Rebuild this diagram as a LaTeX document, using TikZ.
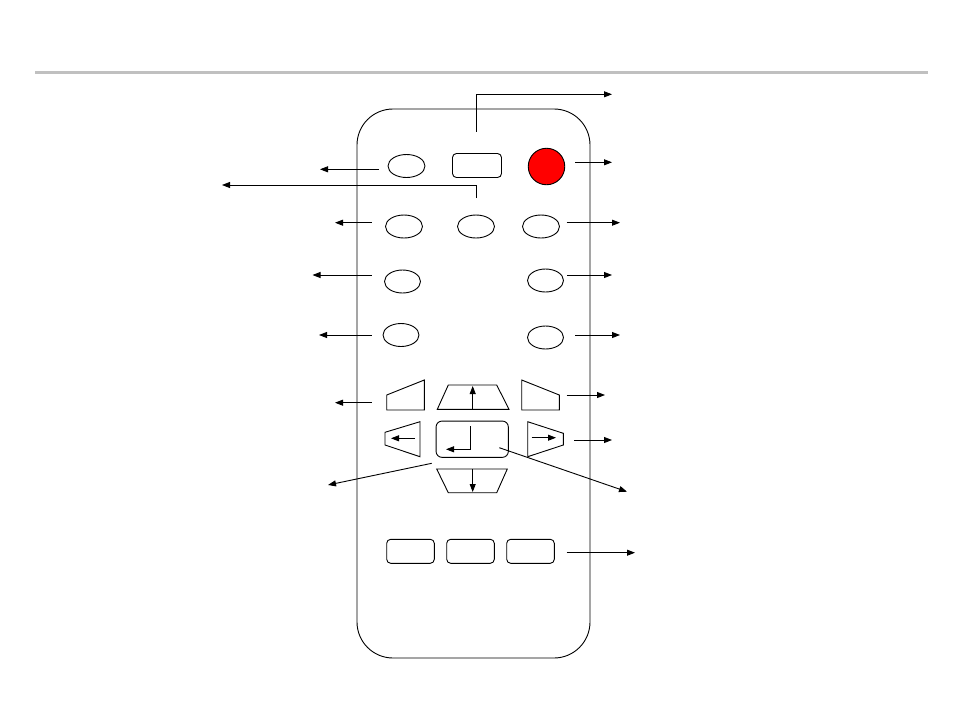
\documentclass[tikz,border=0pt]{standalone}
\usetikzlibrary{shapes.geometric,arrows.meta}
\begin{document}
\begin{tikzpicture}[x=1pt,y=-1pt,
  ln/.style={line width=0.9pt,black},
  arr/.style={ln,-{Triangle[length=8pt,width=6pt]}},
  oval/.style={ellipse,draw,line width=0.9pt,minimum width=37pt,minimum height=23pt,inner sep=0pt},
  keybox/.style={rectangle,draw,line width=0.9pt,rounded corners=4pt,inner sep=0pt},
  padshape/.style={ln,line join=miter}]
\useasboundingbox (0,0) rectangle (954,716);
\fill[white] (0,0) rectangle (954,716);
% gray rule
\draw[line width=3pt,color={rgb,255:red,192;green,192;blue,192}] (35,72) -- (928,72);
% body
\draw[ln,rounded corners=36pt] (357,109) rectangle (590,658);
% row 1
\node[oval] (b1) at (406.5,166) {};
\node[keybox,minimum width=49pt,minimum height=24pt] (b2) at (477,165.5) {};
\node[circle,draw,line width=0.9pt,fill=red,minimum size=36.5pt,inner sep=0pt] (pw) at (546.5,166.5) {};
% row 2
\node[oval] (c1) at (404,226.5) {};
\node[oval] (c2) at (476,226.5) {};
\node[oval] (c3) at (541,226.5) {};
% row 3, 4
\node[oval,minimum width=36pt] (d1) at (402.5,281.5) {};
\node[oval,minimum width=36pt] (d2) at (545.5,280.5) {};
\node[oval,minimum width=36pt] (e1) at (401,335) {};
\node[oval,minimum width=36pt] (e2) at (545.5,337.5) {};
% nav pad
\draw[padshape] (386.7,410) -- (386.7,395) -- (424.3,380) -- (424.3,410) -- cycle;
\draw[padshape] (437.3,409.3) -- (448.3,385) -- (496.7,385) -- (509,409.3) -- cycle;
\draw[padshape] (521.7,410) -- (521.7,380) -- (559.3,395) -- (559.3,410) -- cycle;
\draw[padshape] (385,432.3) -- (420,421.7) -- (420,456.7) -- (385,445) -- cycle;
\node[keybox,rounded corners=6pt,minimum width=72.3pt,minimum height=36.3pt] (ok) at (472.2,439.2) {};
\draw[padshape] (527.7,421.7) -- (563.3,433.3) -- (563.3,445) -- (527.7,456.7) -- cycle;
\draw[padshape] (436.7,469) -- (507.3,469) -- (496.7,492.7) -- (448.3,492.7) -- cycle;
% inner arrows
\coordinate (upS) at (472.7,409.3); \coordinate (upE) at (472.7,386);
\draw[arr] (upS) -- (upE);
\coordinate (dnS) at (472.7,469); \coordinate (dnE) at (472.7,492);
\draw[arr] (dnS) -- (dnE);
\coordinate (lfS) at (415,438.3); \coordinate (lfE) at (391,438.3);
\draw[arr] (lfS) -- (lfE);
\coordinate (rtS) at (531.7,437.7); \coordinate (rtE) at (556,437.7);
\draw[arr] (rtS) -- (rtE);
\coordinate (enS) at (470.7,426); \coordinate (enE) at (446,449.3);
\draw[arr] (enS) |- (enE);
% bottom keys
\node[keybox,minimum width=47.6pt,minimum height=24pt] (f1) at (410.5,551.3) {};
\node[keybox,minimum width=47.6pt,minimum height=24pt] (f2) at (470.5,551.3) {};
\node[keybox,minimum width=47.6pt,minimum height=24pt] (f3) at (530.5,551.3) {};
% callout arrows
\coordinate (t0) at (476.7,131.7); \coordinate (t1) at (612,94.3);
\draw[arr] (t0) |- (t1);
\coordinate (l0) at (476.7,198); \coordinate (l1) at (222,185);
\draw[arr] (l0) |- (l1);
\coordinate (a1s) at (379,169.3); \coordinate (a1e) at (320,169.3);
\draw[arr] (a1s) -- (a1e);
\coordinate (a2s) at (575,162.3); \coordinate (a2e) at (612,162.3);
\draw[arr] (a2s) -- (a2e);
\coordinate (a3s) at (371.7,222.7); \coordinate (a3e) at (335,222.7);
\draw[arr] (a3s) -- (a3e);
\coordinate (a4s) at (566.7,222.7); \coordinate (a4e) at (620,222.7);
\draw[arr] (a4s) -- (a4e);
\coordinate (a5s) at (371.7,275); \coordinate (a5e) at (312.5,275);
\draw[arr] (a5s) -- (a5e);
\coordinate (a6s) at (567.3,275); \coordinate (a6e) at (612,275);
\draw[arr] (a6s) -- (a6e);
\coordinate (a7s) at (371.7,335); \coordinate (a7e) at (319,335);
\draw[arr] (a7s) -- (a7e);
\coordinate (a8s) at (575,335); \coordinate (a8e) at (620,335);
\draw[arr] (a8s) -- (a8e);
\coordinate (a9s) at (371.7,402.7); \coordinate (a9e) at (335,402.7);
\draw[arr] (a9s) -- (a9e);
\coordinate (a10s) at (566.7,395); \coordinate (a10e) at (605,395);
\draw[arr] (a10s) -- (a10e);
\coordinate (a11s) at (574,440); \coordinate (a11e) at (612,440);
\draw[arr] (a11s) -- (a11e);
\coordinate (a12s) at (431.7,463.3); \coordinate (a12e) at (328,485);
\draw[arr] (a12s) -- (a12e);
\coordinate (a13s) at (499.3,447.7); \coordinate (a13e) at (627,491.7);
\draw[arr] (a13s) -- (a13e);
\coordinate (a14s) at (566.7,552.7); \coordinate (a14e) at (635,552.7);
\draw[arr] (a14s) -- (a14e);
\end{tikzpicture}
\end{document}
